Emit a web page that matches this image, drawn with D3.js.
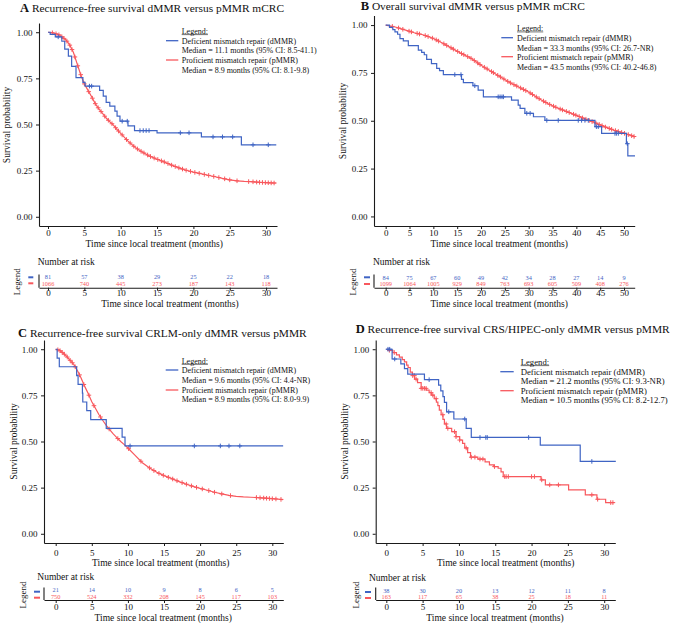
<!DOCTYPE html>
<html><head><meta charset="utf-8">
<script src="https://cdn.jsdelivr.net/npm/d3@7"></script>
<style>
body{margin:0;background:#fff}
svg{display:block}
text{font-family:"Liberation Serif","Times New Roman",serif;fill:#111}
</style>
</head><body>
<svg id="chart" width="676" height="623"></svg>
<script>
// ---------------- DATA ----------------
const groupNames = ["Deficient mismatch repair (dMMR)", "Proficient mismatch repair (pMMR)"];
const groupColors = ["#3F64C4", "#F8585D"];
const panelLetters = ["A", "B", "C", "D"];
const panelTitles = [
  "Recurrence-free survival dMMR versus pMMR mCRC",
  "Overall survival dMMR versus pMMR mCRC",
  "Recurrence-free survival CRLM-only dMMR versus pMMR",
  "Recurrence-free survival CRS/HIPEC-only dMMR versus pMMR"
];
const mediansA = ["Median = 11.1 months (95% CI: 8.5-41.1)", "Median = 8.9 months (95% CI: 8.1-9.8)"];
const mediansB = ["Median = 33.3 months (95% CI: 26.7-NR)", "Median = 43.5 months (95% CI: 40.2-46.8)"];
const mediansC = ["Median = 9.6 months (95% CI: 4.4-NR)", "Median = 8.9 months (95% CI: 8.0-9.9)"];
const mediansD = ["Median = 21.2 months (95% CI: 9.3-NR)", "Median = 10.5 months (95% CI: 8.2-12.7)"];
const yTickValues = [0, 0.25, 0.5, 0.75, 1];
const xTicks30 = [0, 5, 10, 15, 20, 25, 30];
const xTicks50 = [0, 5, 10, 15, 20, 25, 30, 35, 40, 45, 50];
const xAxisTitle = "Time since local treatment (months)";
const yAxisTitle = "Survival probability";
const riskTitle = "Number at risk";

// Panel A
const A_dmmr_t = [0, 0.3, 1.0, 1.9, 2.3, 2.8, 3.25, 3.85, 4.8, 5.1, 7.1, 7.6, 8.0, 8.5, 9.2, 9.5, 9.9, 11.0, 11.9, 15.0, 21.1, 26.6, 31.4];
const A_dmmr_s = [1, 0.988, 0.975, 0.951, 0.908, 0.87, 0.815, 0.754, 0.728, 0.708, 0.685, 0.654, 0.62, 0.6, 0.572, 0.545, 0.518, 0.493, 0.467, 0.455, 0.433, 0.39, 0.39];
const A_dmmr_cens = [1.4, 5.7, 6.0, 10.2, 10.9, 12.65, 13.1, 13.5, 13.9, 18.2, 19.4, 22.7, 24.0, 25.4, 28.2, 30.3];
const A_pmmr_t = [0, 0.5, 1.0, 1.5, 2.0, 2.5, 3.0, 3.5, 4.0, 4.5, 5.0, 5.5, 6.0, 6.5, 7.0, 7.5, 8.0, 8.5, 9.0, 9.5, 10, 11, 12, 13, 14, 15, 16, 17, 18, 19, 20, 21, 22, 23, 24, 25, 26, 27, 28, 29, 30, 31, 31.4];
const A_pmmr_s = [1, 0.998, 0.993, 0.986, 0.973, 0.957, 0.93, 0.89, 0.83, 0.77, 0.72, 0.685, 0.65, 0.613, 0.585, 0.56, 0.535, 0.515, 0.497, 0.473, 0.452, 0.41, 0.375, 0.35, 0.328, 0.312, 0.297, 0.28, 0.265, 0.252, 0.242, 0.234, 0.225, 0.217, 0.208, 0.2, 0.195, 0.192, 0.19, 0.187, 0.185, 0.183, 0.183];
const A_pmmr_cens = [0.6, 1.1, 1.5, 1.9, 2.2, 2.6, 3.0, 3.3, 3.7, 4.1, 4.5, 5.0, 5.6, 6.1, 6.5, 6.9, 7.3, 7.8, 8.3, 8.8, 9.3, 9.7, 10.2, 10.8, 11.3, 11.8, 12.3, 12.8, 13.2, 13.7, 14.1, 14.6, 15.1, 15.6, 16.0, 16.5, 17.0, 17.5, 18.0, 18.5, 19.0, 19.6, 20.2, 20.8, 21.5, 22.1, 22.8, 23.5, 24.3, 25.0, 26.0, 27.6, 28.2, 28.7, 29.1, 29.5, 29.9, 30.3, 30.7, 31.1];
const A_risk_dmmr = [81, 57, 38, 29, 25, 22, 18];
const A_risk_pmmr = [1066, 740, 445, 273, 187, 143, 118];

// Panel B
const B_dmmr_t = [0, 0.8, 1.5, 1.95, 2.5, 3.0, 3.7, 4.75, 6.85, 7.55, 8.1, 8.6, 9.6, 10.7, 11.3, 12.1, 15.9, 16.3, 18.3, 19.4, 20.5, 26.4, 27.8, 28.2, 29.2, 31.0, 33.4, 43.9, 45.3, 50.5, 50.8, 52.3];
const B_dmmr_s = [1, 0.988, 0.976, 0.964, 0.952, 0.929, 0.917, 0.893, 0.869, 0.857, 0.845, 0.821, 0.798, 0.774, 0.762, 0.741, 0.716, 0.699, 0.683, 0.66, 0.625, 0.608, 0.582, 0.565, 0.539, 0.521, 0.502, 0.469, 0.434, 0.38, 0.316, 0.316];
const B_dmmr_cens = [14.5, 15.8, 18.7, 23.6, 24.0, 24.4, 24.7, 29.6, 30.3, 33.8, 36.2, 40.4, 41.1, 41.8, 42.5, 44.2, 44.6, 48.1, 48.4, 48.8, 50.7];
const B_pmmr_t = [0, 2, 4, 6, 8, 10, 12, 14, 16, 18, 20, 22, 24, 26, 28, 30, 32, 34, 36, 38, 40, 42, 44, 46, 48, 50, 52.3];
const B_pmmr_s = [1, 0.99, 0.975, 0.96, 0.948, 0.93, 0.905, 0.877, 0.85, 0.825, 0.79, 0.76, 0.73, 0.70, 0.675, 0.65, 0.618, 0.59, 0.567, 0.548, 0.528, 0.508, 0.489, 0.468, 0.45, 0.435, 0.416];
const B_pmmr_cens = [1.4, 2.7, 3.6, 4.9, 5.4, 6.6, 7.1, 8.3, 8.9, 9.8, 10.6, 11.1, 12.2, 12.8, 13.7, 14.2, 15.1, 15.9, 16.4, 17.2, 17.9, 18.6, 19.3, 19.8, 20.7, 21.3, 22.2, 22.6, 23.5, 24.1, 24.8, 25.6, 26.2, 26.9, 27.5, 28.3, 28.9, 29.4, 30.3, 30.8, 31.6, 32.2, 33.1, 33.6, 34.4, 35.2, 35.7, 36.6, 37.1, 37.9, 38.5, 39.4, 39.9, 40.6, 41.3, 42.0, 42.7, 43.3, 44.1, 44.8, 45.4, 46.1, 46.9, 47.4, 48.2, 48.8, 49.5, 50.1, 50.9, 51.6, 52.1];
const B_risk_dmmr = [84, 75, 67, 60, 49, 42, 34, 28, 27, 14, 9];
const B_risk_pmmr = [1099, 1064, 1005, 929, 849, 763, 693, 605, 509, 408, 276];

// Panel C
const C_dmmr_t = [0, 0.2, 0.5, 2.9, 3.1, 3.7, 3.75, 4.3, 4.85, 7.0, 9.2, 9.6, 31.5];
const C_dmmr_s = [1, 0.952, 0.905, 0.857, 0.810, 0.762, 0.714, 0.667, 0.619, 0.571, 0.524, 0.476, 0.476];
const C_dmmr_cens = [10.3, 19.2, 22.8, 24.0, 25.5];
const C_pmmr_t = [0, 0.5, 1, 1.5, 2, 2.5, 3, 3.5, 4, 4.5, 5, 5.5, 6, 6.5, 7, 7.5, 8, 8.5, 9, 9.5, 10, 11, 12, 13, 14, 15, 16, 17, 18, 19, 20, 21, 22, 23, 24, 25, 26, 27, 28, 29, 30, 31, 31.5];
const C_pmmr_s = [1, 0.995, 0.98, 0.962, 0.94, 0.918, 0.885, 0.845, 0.8, 0.76, 0.715, 0.68, 0.645, 0.615, 0.587, 0.563, 0.54, 0.52, 0.5, 0.483, 0.465, 0.425, 0.385, 0.357, 0.333, 0.315, 0.3, 0.284, 0.27, 0.257, 0.246, 0.236, 0.225, 0.216, 0.208, 0.203, 0.2, 0.198, 0.196, 0.193, 0.19, 0.187, 0.185];
const C_pmmr_cens = [0.3, 0.6, 0.9, 1.2, 1.6, 2.0, 2.3, 2.7, 3.3, 3.9, 4.6, 5.3, 6.2, 7.4, 8.6, 10.1, 11.8, 13.0, 13.6, 14.3, 14.9, 15.6, 16.2, 16.8, 17.5, 18.1, 18.8, 19.5, 20.3, 21.2, 22.0, 23.0, 24.2, 27.8, 28.3, 28.8, 29.2, 29.6, 30.0, 30.5, 31.2];
const C_risk_dmmr = [21, 14, 10, 9, 8, 6, 5];
const C_risk_pmmr = [750, 524, 332, 208, 145, 117, 103];

// Panel D
const D_dmmr_t = [0, 0.8, 2.0, 2.5, 2.95, 5.25, 7.2, 7.5, 7.8, 8.0, 8.3, 9.3, 11.0, 11.7, 21.2, 26.7, 31.6];
const D_dmmr_s = [1, 0.947, 0.921, 0.895, 0.865, 0.835, 0.805, 0.774, 0.743, 0.712, 0.661, 0.622, 0.571, 0.522, 0.480, 0.392, 0.392];
const D_dmmr_cens = [0.23, 0.47, 1.16, 5.9, 8.6, 10.8, 12.9, 13.7, 13.9, 19.6, 28.3];
const D_pmmr_t = [0, 0.4, 0.9, 1.4, 1.8, 2.2, 2.5, 2.8, 3.0, 3.3, 3.6, 3.9, 4.3, 4.8, 5.5, 5.9, 6.2, 6.6, 6.9, 7.1, 7.3, 7.55, 7.8, 8.0, 8.3, 9.0, 9.6, 10.1, 10.5, 10.8, 11.2, 11.6, 12.6, 13.6, 14.2, 14.8, 15.4, 15.8, 16.1, 21.3, 21.9, 25.1, 27.4, 29.0, 30.2, 31.4];
const D_pmmr_s = [1, 0.994, 0.982, 0.969, 0.957, 0.944, 0.932, 0.914, 0.901, 0.876, 0.857, 0.838, 0.819, 0.788, 0.778, 0.765, 0.751, 0.732, 0.713, 0.694, 0.67, 0.645, 0.62, 0.595, 0.571, 0.553, 0.526, 0.508, 0.49, 0.465, 0.44, 0.415, 0.405, 0.39, 0.373, 0.364, 0.355, 0.335, 0.31, 0.292, 0.265, 0.238, 0.211, 0.187, 0.169, 0.169];
const D_pmmr_cens = [0.42, 1.1, 3.64, 3.87, 4.1, 4.8, 5.02, 5.25, 5.48, 6.17, 6.4, 6.86, 7.78, 8.24, 8.47, 9.4, 9.6, 10.1, 11.0, 11.7, 12.2, 12.9, 13.3, 14.9, 16.3, 16.5, 16.8, 20.0, 20.4, 21.4, 22.5, 23.7, 28.3, 29.1, 30.9, 31.2];
const D_risk_dmmr = [38, 30, 20, 13, 12, 11, 8];
const D_risk_pmmr = [163, 117, 65, 38, 25, 18, 11];

// ---------------- LAYOUT ----------------
const layouts = [
  {x0:39, x1:277, xDom:[-1.24,31.5], top:23, bottom:226, titleX:20, titleY:11.5, tickLabelY:233.3, xTitleX:154.3, xTitleY:243.5, yLabX:7, yLabY:125,
   leg:{lx1:166, lx2:178.3, tx:181.7, hy:31, rows:[40.7,50,60,70], fs:8},
   risk:{titleX:37.7, titleY:262, rowY:[276.5,283.3], axisY:287.7, axisTop:274.5, tickLabelY:293.3, xTitleX:170, xTitleY:303.8, markX:[28.3,33.3], markY:[277.3,283.3], legX:16.7, legY:281.7}},
  {x0:374, x1:634.7, xDom:[-2.45,52.24], top:15.5, bottom:226, titleX:360.7, titleY:9.6, tickLabelY:233.3, xTitleX:499.3, xTitleY:243.5, yLabX:343, yLabY:121,
   leg:{lx1:501.3, lx2:513, tx:517, hy:28.3, rows:[37.7,47.7,56.7,66.7], fs:8},
   risk:{titleX:373, titleY:261.7, rowY:[277.3,284], axisY:287.7, axisTop:274.5, tickLabelY:292.9, xTitleX:499.3, xTitleY:303.3, markX:[364,370], markY:[277.3,284], legX:353, legY:282}},
  {x0:44, x1:283.3, xDom:[-1.62,31.52], top:340, bottom:543, titleX:18, titleY:336.7, tickLabelY:552.7, xTitleX:160.8, xTitleY:562.7, yLabX:13.3, yLabY:441.5,
   leg:{lx1:165.7, lx2:178.3, tx:181.7, hy:360.7, rows:[370,380,390,399.3], fs:8},
   risk:{titleX:37.3, titleY:576.7, rowY:[590,596.8], axisY:600, axisTop:587.5, tickLabelY:607.3, xTitleX:163.3, xTitleY:617.3, markX:[34,40], markY:[591.7,597.7], legX:23.3, legY:595}},
  {x0:375.7, x1:615.3, xDom:[-1.46,31.53], top:340, bottom:543, titleX:355.7, titleY:333.3, tickLabelY:552.7, xTitleX:505.8, xTitleY:562.7, yLabX:344.7, yLabY:441.5,
   leg:{lx1:500.3, lx2:513.7, tx:520.7, hy:361.7, rows:[371.7,381,390.7,400], fs:8.7},
   risk:{titleX:369, titleY:577.3, rowY:[591,597], axisY:600, axisTop:587.5, tickLabelY:607.3, xTitleX:495, xTitleY:617.7, markX:[365,371], markY:[592,598], legX:356.3, legY:595}}
];

const panels = [
  {letter:panelLetters[0], title:panelTitles[0], medians:mediansA, ticks:xTicks30,
   curves:[{t:A_dmmr_t,s:A_dmmr_s,c:A_dmmr_cens,step:true},{t:A_pmmr_t,s:A_pmmr_s,c:A_pmmr_cens,step:false}],
   risk:[A_risk_dmmr, A_risk_pmmr]},
  {letter:panelLetters[1], title:panelTitles[1], medians:mediansB, ticks:xTicks50,
   curves:[{t:B_dmmr_t,s:B_dmmr_s,c:B_dmmr_cens,step:true},{t:B_pmmr_t,s:B_pmmr_s,c:B_pmmr_cens,step:false}],
   risk:[B_risk_dmmr, B_risk_pmmr]},
  {letter:panelLetters[2], title:panelTitles[2], medians:mediansC, ticks:xTicks30,
   curves:[{t:C_dmmr_t,s:C_dmmr_s,c:C_dmmr_cens,step:true},{t:C_pmmr_t,s:C_pmmr_s,c:C_pmmr_cens,step:false}],
   risk:[C_risk_dmmr, C_risk_pmmr]},
  {letter:panelLetters[3], title:panelTitles[3], medians:mediansD, ticks:xTicks30,
   curves:[{t:D_dmmr_t,s:D_dmmr_s,c:D_dmmr_cens,step:true},{t:D_pmmr_t,s:D_pmmr_s,c:D_pmmr_cens,step:true}],
   risk:[D_risk_dmmr, D_risk_pmmr]}
];

// ---------------- DRAW ----------------
const svg = d3.select("#chart");
const FONT = '"Liberation Serif","Times New Roman",serif';
const AXIS = "#1a1a1a";

function survAt(cv, t){
  const n = Math.min(cv.t.length, cv.s.length);
  if (cv.step){
    let v = cv.s[0];
    for (let i=0;i<n;i++){ if (cv.t[i] <= t) v = cv.s[i]; }
    return v;
  }
  for (let i=1;i<n;i++){
    if (t <= cv.t[i]){
      const f = (t - cv.t[i-1])/(cv.t[i]-cv.t[i-1]);
      return cv.s[i-1] + f*(cv.s[i]-cv.s[i-1]);
    }
  }
  return cv.s[n-1];
}

function styleAxis(sel, fs){
  sel.attr("font-family", FONT).attr("font-size", fs);
  sel.select(".domain").attr("stroke", AXIS).attr("stroke-width", 1.1);
  sel.selectAll(".tick line").attr("stroke", AXIS).attr("stroke-width", 1);
  sel.selectAll(".tick text").attr("fill", "#111");
}

panels.forEach((p, pi) => {
  const L = layouts[pi];
  const g = svg.append("g");
  const x = d3.scaleLinear().domain(L.xDom).range([L.x0, L.x1]);
  const y = d3.scaleLinear().domain([-0.05, 1.05]).range([L.bottom, L.top]);

  // title
  const tt = g.append("text").attr("x", L.titleX).attr("y", L.titleY).style("font-size", "11.4px");
  tt.append("tspan").attr("font-weight", "bold").style("font-size", "12.5px").text(p.letter);
  tt.append("tspan").text(" " + p.title);

  // y axis
  const ya = g.append("g").attr("transform", `translate(${L.x0},0)`)
    .call(d3.axisLeft(y).tickValues(yTickValues).tickFormat(d3.format(".2f")).tickSize(3).tickPadding(3.5).tickSizeOuter(0));
  styleAxis(ya, 9);

  // x axis
  const xa = g.append("g").attr("transform", `translate(0,${L.bottom})`)
    .call(d3.axisBottom(x).tickValues(p.ticks).tickFormat(d3.format("d")).tickSize(3).tickSizeOuter(0));
  styleAxis(xa, 9);
  xa.selectAll(".tick text").attr("y", L.tickLabelY - L.bottom).attr("dy", "0.35em");

  // axis titles
  g.append("text").attr("x", L.xTitleX).attr("y", L.xTitleY).attr("dy", "0.35em")
    .attr("text-anchor", "middle").style("font-size", "9.5px").text(xAxisTitle);
  g.append("text").attr("transform", `translate(${L.yLabX},${L.yLabY}) rotate(-90)`).attr("dy", "0.35em")
    .attr("text-anchor", "middle").style("font-size", "9.5px").text(yAxisTitle);

  // curves
  [1, 0].forEach(gi => {
    const cv = p.curves[gi];
    const n = Math.min(cv.t.length, cv.s.length);
    const pts = d3.range(n).map(i => [cv.t[i], cv.s[i]]);
    const line = d3.line().x(d => x(d[0])).y(d => y(d[1]))
      .curve(cv.step ? d3.curveStepAfter : d3.curveLinear);
    g.append("path").attr("d", line(pts)).attr("fill", "none")
      .attr("stroke", groupColors[gi]).attr("stroke-width", 1.2);
    g.append("g").selectAll("path").data(cv.c).join("path")
      .attr("transform", d => `translate(${x(d)},${y(survAt(cv, d))})`)
      .attr("d", "M-2.3,0H2.3M0,-2.3V2.3")
      .attr("stroke", groupColors[gi]).attr("stroke-width", 1).attr("fill", "none");
  });

  // legend inside plot
  const lg = L.leg;
  const lt = g.append("text").attr("x", lg.tx).attr("y", lg.hy).attr("dy", "0.35em")
    .style("font-size", lg.fs + "px").text("Legend:");
  const lw = lt.node().getComputedTextLength();
  g.append("line").attr("x1", lg.tx).attr("x2", lg.tx + lw)
    .attr("y1", lg.hy + lg.fs*0.45).attr("y2", lg.hy + lg.fs*0.45)
    .attr("stroke", "#111").attr("stroke-width", 0.6);
  [0, 1].forEach(gi => {
    const r0 = lg.rows[gi*2], r1 = lg.rows[gi*2+1];
    g.append("line").attr("x1", lg.lx1).attr("x2", lg.lx2).attr("y1", r0).attr("y2", r0)
      .attr("stroke", groupColors[gi]).attr("stroke-width", 1.3);
    g.append("text").attr("x", lg.tx).attr("y", r0).attr("dy", "0.35em")
      .style("font-size", lg.fs + "px").text(groupNames[gi]);
    g.append("text").attr("x", lg.tx).attr("y", r1).attr("dy", "0.35em")
      .style("font-size", lg.fs + "px").text(p.medians[gi]);
  });

  // risk table
  const R = L.risk;
  g.append("text").attr("x", R.titleX).attr("y", R.titleY).attr("dy", "0.35em")
    .style("font-size", "9.5px").text(riskTitle);
  [0, 1].forEach(gi => {
    g.append("g").selectAll("text").data(p.risk[gi]).join("text")
      .attr("x", (d, i) => x(p.ticks[i])).attr("y", R.rowY[gi]).attr("dy", "0.35em")
      .attr("text-anchor", "middle").style("font-size", "6.3px")
      .attr("fill", groupColors[gi]).style("fill", groupColors[gi]).text(d => d);
    g.append("line").attr("x1", R.markX[0]).attr("x2", R.markX[1]).attr("y1", R.markY[gi]).attr("y2", R.markY[gi])
      .attr("stroke", groupColors[gi]).attr("stroke-width", 2);
  });
  const ra = g.append("g").attr("transform", `translate(0,${R.axisY})`)
    .call(d3.axisBottom(x).tickValues(p.ticks).tickFormat(d3.format("d")).tickSize(3).tickSizeOuter(0));
  styleAxis(ra, 9);
  ra.selectAll(".tick text").attr("y", R.tickLabelY - R.axisY).attr("dy", "0.35em");
  g.append("line").attr("x1", L.x0).attr("x2", L.x0).attr("y1", R.axisTop).attr("y2", R.axisY)
    .attr("stroke", AXIS).attr("stroke-width", 1.1);
  g.append("text").attr("x", R.xTitleX).attr("y", R.xTitleY).attr("dy", "0.35em")
    .attr("text-anchor", "middle").style("font-size", "9.5px").text(xAxisTitle);
  g.append("text").attr("transform", `translate(${R.legX},${R.legY}) rotate(-90)`).attr("dy", "0.35em")
    .attr("text-anchor", "middle").style("font-size", "9px").text("Legend");
});
</script>
</body></html>
